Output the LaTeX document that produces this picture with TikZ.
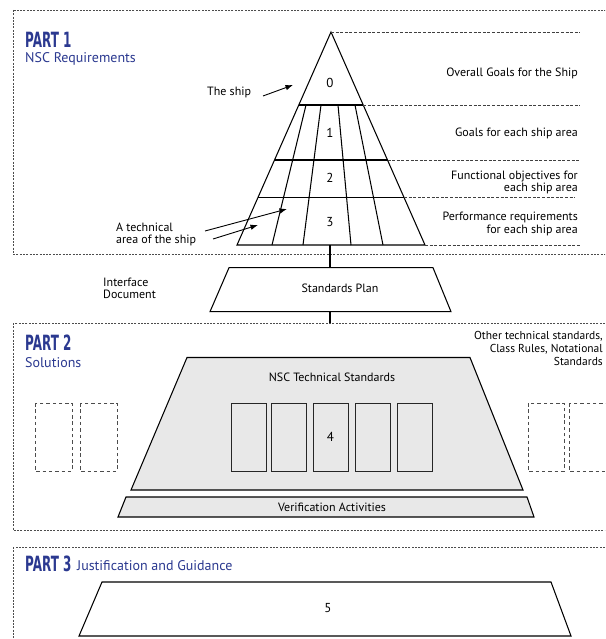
\documentclass[tikz,border=0pt]{standalone}
\usepackage{fontspec}
\setmainfont{PT Sans}
\newfontfamily\partfont{DejaVu Sans}
\usetikzlibrary{arrows.meta}
\definecolor{partblue}{RGB}{43,57,144}
\definecolor{stdgray}{RGB}{232,232,232}
\tikzset{
  partbox/.style={draw=black!70, line width=0.8pt, dash pattern=on 2pt off 1.3pt},
  levelline/.style={draw=black!75, line width=0.6pt, dash pattern=on 3pt off 1.6pt},
  shapeline/.style={draw=black, line width=1.05pt, line join=miter},
  txt/.style={font=\fontsize{12}{12.5}\selectfont, inner sep=0pt},
  num/.style={font=\fontsize{13}{14}\selectfont, inner sep=0pt},
  parttitle/.style={font=\fontsize{21}{21}\partfont\bfseries, text=partblue, inner sep=0pt, anchor=west},
  partsub/.style={font=\fontsize{14}{15}\selectfont, text=partblue, inner sep=0pt, anchor=west},
  ptr/.style={-{Latex[length=7.5pt,width=5.5pt]}, line width=0.9pt},
  otherbox/.style={draw=black!70, line width=1pt, dash pattern=on 3.5pt off 2.8pt},
  stdbox/.style={draw=black!85, line width=1pt, fill=stdgray, minimum width=35pt, minimum height=68pt, inner sep=0pt},
}
\begin{document}
\begin{tikzpicture}[x=1pt,y=-1pt]
\useasboundingbox (0,0) rectangle (605,639);
\clip (0,0) rectangle (605,639);
\fill[white] (0,0) rectangle (605,639);

% part frames
\draw[partbox] (13,10) rectangle (620,254);
\draw[partbox] (13,323) rectangle (620,530);
\draw[partbox] (13,547) rectangle (620,660);

% part titles
\node[parttitle] (p1) at (25,39.5) {\scalebox{0.57}[1]{PART 1}};
\node[partsub] (p1s) at (25,59) {NSC Requirements};
\node[parttitle] (p2) at (25,343) {\scalebox{0.57}[1]{PART 2}};
\node[partsub] (p2s) at (25,363) {Solutions};
\node[parttitle] (p3) at (25,564) {\scalebox{0.57}[1]{PART 3}};
\node[partsub] (p3s) at (77,566) {Justification and Guidance};

% pyramid
\coordinate (apex) at (331,32);
\coordinate (bl) at (237,245);
\coordinate (br) at (425,245);
\draw[shapeline] (apex) -- (bl) -- (br) -- cycle;
\draw[shapeline] (298.8,105) -- (363.2,105);
\draw[shapeline] (274.5,160) -- (387.5,160);
\draw[shapeline] (258,197.5) -- (404,197.5);
\draw[shapeline] (306,105) -- (272,245);
\draw[shapeline] (321,105) -- (303,245);
\draw[shapeline] (338,105) -- (351,245);
\draw[shapeline] (355,105) -- (383,245);

% level lines
\draw[levelline] (apex) -- (580,32);
\draw[levelline] (363.2,105) -- (580,105);
\draw[levelline] (387.5,160) -- (580,160);
\draw[levelline] (404,197.5) -- (575,197.5);
\draw[levelline] (br) -- (580,245);

% level numbers
\node[num] (n0) at (330,83) {0};
\node[num] (n1) at (330,133) {1};
\node[num] (n2) at (330,178) {2};
\node[num] (n3) at (330,222) {3};

% level descriptions
\node[txt, anchor=east, align=right] (g0) at (578,73) {Overall Goals for the Ship};
\node[txt, anchor=east, align=right] (g1) at (578,133) {Goals for each ship area};
\node[txt, anchor=east, align=right] (g2) at (578,182.5) {Functional objectives for\\each ship area};
\node[txt, anchor=east, align=right] (g3) at (578,224) {Performance requirements\\for each ship area};

% pointers
\node[txt, anchor=west] (ship) at (207,92) {The ship};
\coordinate (shiptail) at (263,96);
\coordinate (shiptip) at (293,85);
\draw[ptr] (shiptail) -- (shiptip);
\node[txt, anchor=west, align=left] (tech) at (116,234.5) {A technical\\area of the ship};
\coordinate (ta1) at (205,231);
\coordinate (tb1) at (287,209);
\coordinate (ta2) at (213,239);
\coordinate (tb2) at (258,225);
\draw[ptr] (ta1) -- (tb1);
\draw[ptr] (ta2) -- (tb2);

% standards plan
\draw[shapeline] (229,267.7) -- (433,267.7) -- (451,311.7) -- (210,311.7) -- cycle;
\node[txt] (sp) at (340,288) {Standards Plan};
\node[txt, anchor=west, align=left] (ifd) at (103,288.5) {Interface\\Document};
\coordinate (pbase) at (330,245);
\coordinate (sptop) at (330,267.7);
\coordinate (spbot) at (330,311.7);
\coordinate (p2top) at (330,323);
\draw[shapeline] (pbase) -- (sptop);
\draw[shapeline] (spbot) -- (p2top);

% NSC technical standards
\draw[shapeline, fill=stdgray] (187,357.5) -- (470,357.5) -- (523,490) -- (131,490) -- cycle;
\node[txt] (nsc) at (332,377) {NSC Technical Standards};
\node[stdbox] (s1) at (248.5,437) {};
\node[stdbox] (s2) at (289,437) {};
\node[stdbox] (s3) at (330.5,437) {};
\node[stdbox] (s4) at (372.5,437) {};
\node[stdbox] (s5) at (414.5,437) {};
\node[num] (n4) at (s3) {4};

% verification
\draw[shapeline, fill=stdgray] (126,497) -- (527,497) -- (534,517) -- (118,517) -- cycle;
\node[txt] (ver) at (332,507) {Verification Activities};

% other standards
\draw[otherbox] (35,403) rectangle (72,471);
\draw[otherbox] (80,403) rectangle (117,471);
\draw[otherbox] (528,403) rectangle (564,471);
\draw[otherbox] (569,403) rectangle (606,471);
\node[txt, anchor=north east, align=right, font=\fontsize{11.5}{13}\selectfont] (oth) at (603,331) {Other technical standards,\\Class Rules, Notational\\Standards};

% part 3
\draw[shapeline] (102,582) -- (551,582) -- (571,636) -- (79,636) -- cycle;
\node[num] (n5) at (328,608) {5};
\end{tikzpicture}
\end{document}
